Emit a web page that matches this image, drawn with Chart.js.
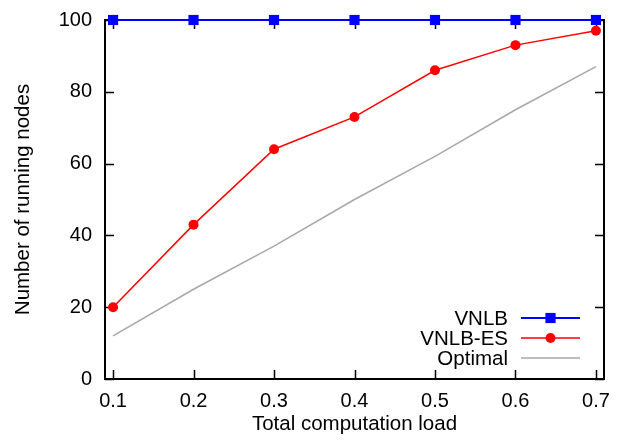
<!DOCTYPE html>
<html>
<head>
<meta charset="utf-8">
<script src="https://cdn.jsdelivr.net/npm/chart.js@4"></script>
<style>
  html, body { margin: 0; padding: 0; background: #fff; }
  #wrap { width: 622px; height: 441px; }
</style>
</head>
<body>
<div id="wrap"><canvas id="chart" width="622" height="441"></canvas></div>
<script>
// data
const loads = [0.1, 0.2, 0.3, 0.4, 0.5, 0.6, 0.7];
const vnlb = [100, 100, 100, 100, 100, 100, 100];
const vnlbEs = [20, 43, 64, 73, 86, 93, 97];
const optimal = [12, 25, 37, 50, 62, 75, 87];
const xTicks = [0.1, 0.2, 0.3, 0.4, 0.5, 0.6, 0.7];
const yTicks = [0, 20, 40, 60, 80, 100];

const FONT = 'Liberation Sans, Arial, sans-serif';

function pts(ys) {
    return loads.map((x, i) => ({ x: x, y: ys[i] }));
}

// gnuplot style frame: full border with inward ticks on all four sides
const framePlugin = {
    id: 'frame',
    beforeDatasetsDraw(chart) {
        const ctx = chart.ctx;
        const a = chart.chartArea;
        const xs = chart.scales.x;
        const ys = chart.scales.y;
        const len = 9;
        ctx.save();
        ctx.strokeStyle = '#000';
        ctx.lineWidth = 1.5;
        ctx.beginPath();
        xTicks.forEach(v => {
            const px = Math.round(xs.getPixelForValue(v)) + 0.5;
            ctx.moveTo(px, a.bottom); ctx.lineTo(px, a.bottom - len);
            ctx.moveTo(px, a.top); ctx.lineTo(px, a.top + len);
        });
        yTicks.forEach(v => {
            const py = Math.round(ys.getPixelForValue(v)) + 0.5;
            ctx.moveTo(a.left, py); ctx.lineTo(a.left + len, py);
            ctx.moveTo(a.right, py); ctx.lineTo(a.right - len, py);
        });
        ctx.stroke();
        ctx.lineWidth = 2;
        ctx.strokeRect(a.left, a.top, a.right - a.left, a.bottom - a.top);
        ctx.restore();
    }
};

// legend in the lower right corner, text right aligned, sample after it
const keyPlugin = {
    id: 'key',
    afterDraw(chart) {
        const ctx = chart.ctx;
        const textRight = 508;
        const lineL = 521, lineR = 580;
        const rows = [318, 338, 358];
        ctx.save();
        ctx.font = '20.5px ' + FONT;
        ctx.textAlign = 'right';
        ctx.textBaseline = 'middle';
        chart.data.datasets.forEach((ds, i) => {
            const y = rows[i];
            ctx.fillStyle = '#000';
            ctx.fillText(ds.label, textRight, y + 1);
            ctx.strokeStyle = ds.borderColor;
            ctx.lineWidth = ds.borderWidth;
            ctx.beginPath();
            ctx.moveTo(lineL, y); ctx.lineTo(lineR, y);
            ctx.stroke();
            if (ds.pointRadius > 0) {
                ctx.fillStyle = ds.pointBackgroundColor;
                const cx = (lineL + lineR) / 2;
                if (ds.pointStyle === 'rect') {
                    const h = ds.pointRadius / Math.SQRT2;
                    ctx.fillRect(cx - h, y - h, 2 * h, 2 * h);
                } else {
                    ctx.beginPath();
                    ctx.arc(cx, y, ds.pointRadius, 0, Math.PI * 2);
                    ctx.fill();
                }
            }
        });
        ctx.restore();
    }
};

new Chart(document.getElementById('chart').getContext('2d'), {
    type: 'line',
    data: {
        datasets: [
            {
                label: 'VNLB',
                data: pts(vnlb),
                borderColor: '#0000ff',
                backgroundColor: '#0000ff',
                pointBackgroundColor: '#0000ff',
                pointBorderWidth: 0,
                borderWidth: 2,
                pointStyle: 'rect',
                pointRadius: 7.2,
                clip: false
            },
            {
                label: 'VNLB-ES',
                data: pts(vnlbEs),
                borderColor: '#ff0000',
                backgroundColor: '#ff0000',
                pointBackgroundColor: '#ff0000',
                pointBorderWidth: 0,
                borderWidth: 1.5,
                pointStyle: 'circle',
                pointRadius: 5,
                clip: false
            },
            {
                label: 'Optimal',
                data: pts(optimal),
                borderColor: '#a8a8a8',
                backgroundColor: '#a8a8a8',
                pointBackgroundColor: '#a8a8a8',
                borderWidth: 1.5,
                pointRadius: 0,
                clip: false
            }
        ]
    },
    options: {
        responsive: false,
        animation: false,
        layout: { padding: { left: 0, right: 18, top: 20, bottom: 0 } },
        plugins: {
            legend: { display: false },
            tooltip: { enabled: false }
        },
        scales: {
            x: {
                type: 'linear',
                min: 0.09,
                max: 0.71,
                grid: { display: false, drawTicks: false },
                border: { display: false },
                afterBuildTicks: s => { s.ticks = xTicks.map(v => ({ value: v })); },
                afterFit: s => {
                    s.height = 62;
                    s.paddingLeft = 0;
                    s.paddingRight = 0;
                },
                ticks: {
                    color: '#000',
                    padding: 10,
                    maxRotation: 0,
                    font: { family: FONT, size: 20 },
                    callback: v => v.toFixed(1)
                },
                title: {
                    display: true,
                    text: 'Total computation load',
                    color: '#000',
                    padding: { top: 4, bottom: 4 },
                    font: { family: FONT, size: 20.5 }
                }
            },
            y: {
                min: 0,
                max: 100,
                grid: { display: false, drawTicks: false },
                border: { display: false },
                afterBuildTicks: s => { s.ticks = yTicks.map(v => ({ value: v })); },
                afterFit: s => {
                    s.width = 105;
                    s.paddingTop = 0;
                    s.paddingBottom = 0;
                },
                ticks: {
                    color: '#000',
                    padding: 13,
                    font: { family: FONT, size: 20 }
                },
                title: {
                    display: true,
                    text: 'Number of running nodes',
                    color: '#000',
                    padding: { top: 11, bottom: 10 },
                    font: { family: FONT, size: 20.5 }
                }
            }
        }
    },
    plugins: [framePlugin, keyPlugin]
});
</script>
</body>
</html>
